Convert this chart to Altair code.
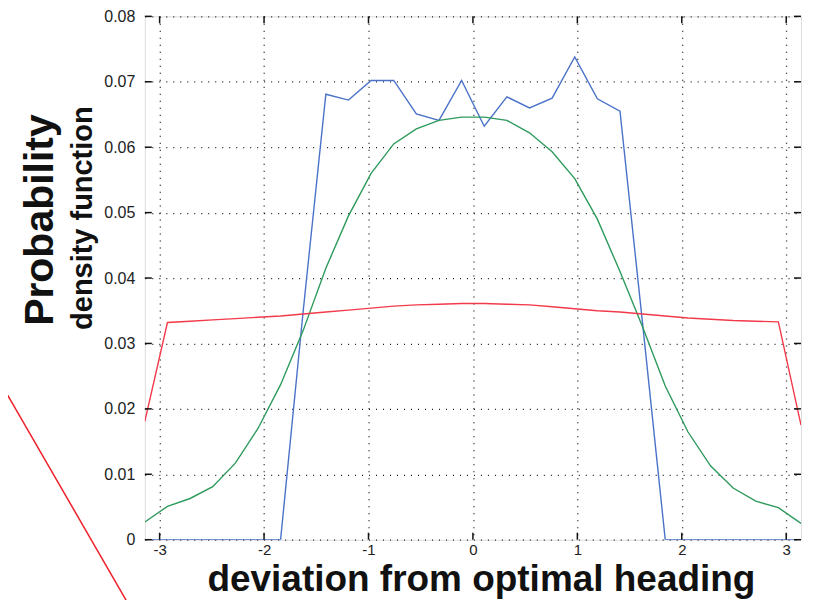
import math
import altair as alt
import pandas as pd

# sample positions: 30 evenly spaced points over [-pi, pi]
N = 30
x_vals = [-math.pi + k * 2 * math.pi / (N - 1) for k in range(N)]

blue = [0, 0, 0, 0, 0, 0, 0, 0.035, 0.0681, 0.0672, 0.0702, 0.0702, 0.0651, 0.0641,
        0.0702, 0.0632, 0.0677, 0.0660, 0.0675, 0.0738, 0.0674, 0.0655, 0.033,
        0, 0, 0, 0, 0, 0, 0]
green = [0.0027, 0.0051, 0.0063, 0.0081, 0.0117, 0.0170, 0.0237, 0.0320, 0.0415,
         0.0495, 0.0560, 0.0605, 0.0628, 0.0641, 0.0646, 0.0646, 0.0641, 0.0622,
         0.0593, 0.0552, 0.0490, 0.0410, 0.0325, 0.0235, 0.0165, 0.0113, 0.0079,
         0.0059, 0.0049, 0.0025]
red = [0.0181, 0.0332, 0.0334, 0.0336, 0.0338, 0.0340, 0.0342, 0.0345, 0.0348,
       0.0351, 0.0354, 0.0357, 0.0359, 0.0360, 0.0361, 0.0361, 0.0360, 0.0359,
       0.0356, 0.0353, 0.0350, 0.0348, 0.0345, 0.0342, 0.0339, 0.0337, 0.0335,
       0.0334, 0.0333, 0.0175]

series_names = ["blue", "green", "red"]
series_colors = ["#4a72c8", "#2e9a5c", "#f23a4a"]

x_ticks = [-3, -2, -1, 0, 1, 2, 3]
y_ticks = [0, 0.01, 0.02, 0.03, 0.04, 0.05, 0.06, 0.07, 0.08]

W, H = 657, 524
XMIN, XMAX = -math.pi, math.pi

rows = []
for name, vals in zip(series_names, [blue, green, red]):
    for xv, yv in zip(x_vals, vals):
        rows.append({"x": xv, "y": yv, "s": name})
df = pd.DataFrame(rows)

xs = alt.Scale(domain=[XMIN, XMAX], nice=False, zero=False)
ys = alt.Scale(domain=[0, 0.08], nice=False)

label_expr_y = "datum.value == 0 ? '0' : format(datum.value, '.2f')"
label_expr_x = "toString(datum.value)"

base = alt.Chart(df)

lines = base.mark_line(strokeWidth=1.4, clip=True).encode(
    x=alt.X("x:Q", scale=xs, axis=alt.Axis(
        values=x_ticks, grid=True, gridDash=[1, 6], gridColor="#000", gridOpacity=0.9,
        gridWidth=1.3, ticks=False, domain=False, labelFontSize=15, labelColor="#222",
        labelFont="Liberation Sans", labelPadding=3, title=None,
        labelExpr=label_expr_x)),
    y=alt.Y("y:Q", scale=ys, axis=alt.Axis(
        values=y_ticks, grid=True, gridDash=[1, 6], gridColor="#000", gridOpacity=0.9,
        gridWidth=1.3, ticks=False, domain=False, labelFontSize=16, labelColor="#222",
        labelFont="Liberation Sans", labelPadding=10, title=None,
        labelExpr=label_expr_y)),
    color=alt.Color("s:N", scale=alt.Scale(domain=series_names, range=series_colors),
                    legend=None),
    detail="s:N",
)

# inward tick marks on all four sides
xt = pd.DataFrame({"t": x_ticks})
yt = pd.DataFrame({"t": y_ticks})
tick_b = alt.Chart(xt).mark_rule(color="#111", strokeWidth=1.5).encode(
    x=alt.X("t:Q", scale=xs), y=alt.value(H), y2=alt.value(H - 7))
tick_t = alt.Chart(xt).mark_rule(color="#111", strokeWidth=1.5).encode(
    x=alt.X("t:Q", scale=xs), y=alt.value(0), y2=alt.value(7))
tick_l = alt.Chart(yt).mark_rule(color="#111", strokeWidth=1.5).encode(
    y=alt.Y("t:Q", scale=ys), x=alt.value(0), x2=alt.value(7))
tick_r = alt.Chart(yt).mark_rule(color="#111", strokeWidth=1.5).encode(
    y=alt.Y("t:Q", scale=ys), x=alt.value(W), x2=alt.value(W - 7))

# titles
t_prob = alt.Chart(pd.DataFrame({"t": ["Probability"]})).mark_text(
    angle=270, fontSize=41, fontWeight="bold", font="Liberation Sans", color="#111",
    baseline="alphabetic", align="center").encode(
    text="t:N", x=alt.value(-92), y=alt.value(204))
t_dens = alt.Chart(pd.DataFrame({"t": ["density function"]})).mark_text(
    angle=270, fontSize=29, fontWeight="bold", font="Liberation Sans", color="#111",
    baseline="alphabetic", align="center").encode(
    text="t:N", x=alt.value(-53), y=alt.value(202))
t_x = alt.Chart(pd.DataFrame({"t": ["deviation from optimal heading"]})).mark_text(
    fontSize=37, fontWeight="bold", font="Liberation Sans", color="#111",
    baseline="alphabetic", align="center").encode(
    text="t:N", x=alt.value(337), y=alt.value(575))

# stray red stroke at the lower left
stray = alt.Chart(pd.DataFrame({"a": [0]})).mark_rule(color="#f0202a", strokeWidth=1.5).encode(
    x=alt.value(-145), y=alt.value(366), x2=alt.value(-11), y2=alt.value(598))

chart = alt.layer(lines, tick_b, tick_t, tick_l, tick_r, t_prob, t_dens, t_x, stray).properties(
    width=W, height=H,
    autosize=alt.AutoSizeParams(type="none"),
    padding={"left": 137, "top": 8, "right": 5, "bottom": 60},
).configure_view(stroke="#111", strokeWidth=1.8).configure(background="white")

chart.save("out.html", embed_options={"renderer": "svg", "actions": False})
